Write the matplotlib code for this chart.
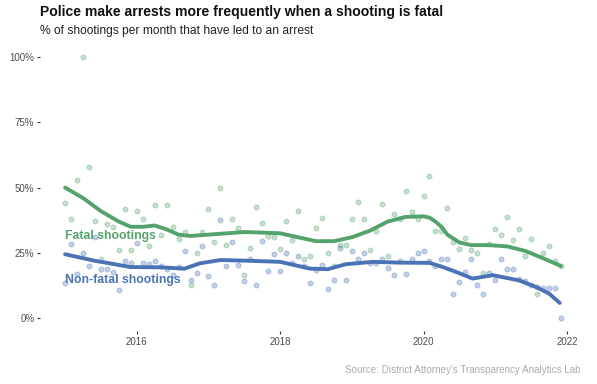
import matplotlib
matplotlib.use("Agg")
import matplotlib.pyplot as plt
import numpy as np

plt.rcParams['font.family'] = ['Liberation Sans', 'DejaVu Sans']

# monthly share of shootings that led to an arrest, Jan 2015 .. Dec 2021
fatal = [44, 38, 53, 100, 58, 37.4, 22.8, 36, 35, 26, 42, 26,
         41, 38, 27.6, 43.5, 31.8, 43.5, 35, 30.5, 33, 12.9, 24.8, 33,
         42, 29.2, 50, 28, 38, 34.6, 16.5, 27, 42.6, 36.6, 31.4, 31.1,
         26.4, 37.3, 30, 41, 22.8, 23.7, 34.6, 38.2, 24.8, 20, 28, 28,
         37.9, 44.3, 37.9, 26, 33.3, 43.9, 23.7, 40, 38, 48.6, 40.7, 38,
         46.6, 54.5, 33.3, 33.3, 42.2, 29, 26.7, 30.6, 26, 25, 17.2, 28.6,
         34, 31.8, 38.8, 30.1, 34, 24, 30.5, 9.4, 25.1, 27.7, 22, 20]
nonfatal = [13.5, 28.6, 17, 25, 20, 31, 19, 18.8, 17.7, 10.7, 22, 21,
            28.7, 21, 20.7, 22, 20, 19, 16.5, 19.6, 25.8, 14.8, 17.3, 27.6,
            16, 12.9, 37.5, 20, 29.2, 20.3, 14.3, 22.6, 12.9, 29.6, 18.1, 24.5,
            18.1, 25, 21, 24, 20, 13.5, 18.4, 20.3, 11.4, 14.8, 27, 14.5,
            25.6, 22.5, 25, 21, 21, 22.8, 19.4, 16.5, 22, 16.8, 22.6, 25,
            25.6, 22, 20, 22.6, 22.6, 9.4, 13.7, 17.7, 22.6, 12.6, 9.4, 17.2,
            14.8, 22.5, 19, 19, 15, 14.2, 12.6, 12, 11.6, 11.6, 11.6, 0]

# smoothed trend lines (month index, %)
fatal_trend_m = [0, 3, 6, 9, 11, 13, 15, 17, 19, 21, 24, 27, 30, 33, 36, 39, 42, 45,
                 48, 51, 54, 57, 60, 61, 62, 63, 64, 66, 68, 71, 74, 77, 80, 83]
fatal_trend_v = [50, 46, 41, 37, 35, 35, 35.5, 34, 32, 31.5, 32, 32.5, 33, 32.8, 32.5, 31, 29.5, 29.5,
                 31, 33.5, 37, 38.8, 39, 38.5, 37, 35, 32, 29, 28, 28, 27.5, 25.8, 23, 20]
nonfatal_trend_m = [0, 5, 11, 16, 20, 22.5, 26, 31, 36, 41, 44, 47, 51.5, 56, 61,
                    63, 65.5, 68.2, 71.6, 76, 78.8, 81, 82.8]
nonfatal_trend_v = [24.5, 22, 19.6, 19.5, 19, 21, 22.3, 22, 21.6, 19, 18.8, 20.7, 21.6, 21.3, 21.2,
                    19.8, 17.7, 15.2, 16.5, 14.5, 12, 9.5, 5.9]

green = '#55a36c'
blue = '#4a73b5'

months = np.arange(len(fatal))
dates = 2015 + months / 12

fig = plt.figure(figsize=(5.97, 3.84), dpi=100)
ax = fig.add_axes([0.067, 0.137, 0.915, 0.749])

ax.scatter(dates, fatal, s=12, facecolor=green, edgecolor=green, alpha=0.32,
           linewidths=0.9, zorder=2)
ax.scatter(dates, nonfatal, s=12, facecolor=blue, edgecolor=blue, alpha=0.32,
           linewidths=0.9, zorder=2)

ax.plot(2015 + np.array(fatal_trend_m) / 12, fatal_trend_v, color=green, lw=2.8,
        solid_capstyle='round', solid_joinstyle='round', zorder=3)
ax.plot(2015 + np.array(nonfatal_trend_m) / 12, nonfatal_trend_v, color=blue, lw=2.8,
        solid_capstyle='round', solid_joinstyle='round', zorder=3)

ax.text(2015.0, 31.5, 'Fatal shootings', color=green, fontsize=8.8, fontweight='bold',
        va='center', ha='left', zorder=4)
ax.text(2015.0, 14.5, 'Non-fatal shootings', color=blue, fontsize=8.8, fontweight='bold',
        va='center', ha='left', zorder=4)

ax.set_xlim(2014.65, 2022.27)
ax.set_ylim(-5, 105)
ax.set_xticks([2016, 2018, 2020, 2022])
ax.set_xticklabels(['2016', '2018', '2020', '2022'])
ax.set_yticks([0, 25, 50, 75, 100])
ax.set_yticklabels(['0%', '25%', '50%', '75%', '100%'])
ax.tick_params(axis='both', length=2.5, width=0.8, color='#333333',
               labelsize=7, labelcolor='#4d4d4d', pad=1.5)
for s in ax.spines.values():
    s.set_visible(False)

fig.text(0.067, 0.968, 'Police make arrests more frequently when a shooting is fatal',
         fontsize=10.1, fontweight='bold', va='center', ha='left', color='#111111')
fig.text(0.067, 0.918, '% of shootings per month that have led to an arrest',
         fontsize=8.65, va='center', ha='left', color='#222222')
fig.text(0.972, 0.036, "Source: District Attorney's Transparency Analytics Lab",
         fontsize=7.1, va='center', ha='right', color='#aaaaaa')

fig.savefig('out.png', dpi=100)
